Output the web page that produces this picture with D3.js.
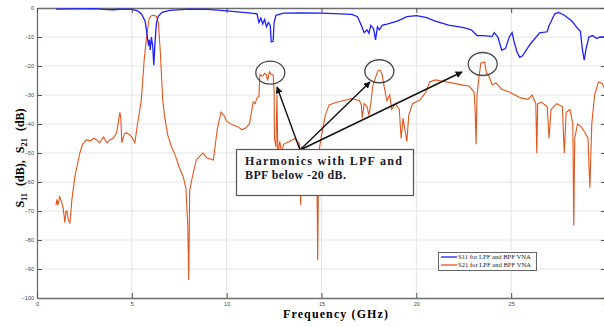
<!DOCTYPE html>
<html>
<head>
<meta charset="utf-8">
<script src="https://cdn.jsdelivr.net/npm/d3@7"></script>
<style>
  body { margin: 0; background: #fff; }
  svg { display: block; }
  .tick text { font-family: "Liberation Sans", Arial, sans-serif; font-size: 5.5px; fill: #444; }
</style>
</head>
<body>
<svg id="chart" width="604" height="327"></svg>
<script>
// S11 trace (GHz, dB)
const s11Freq = [1.0, 2.0, 3.0, 3.5, 4.0, 4.5, 5.0, 5.3, 5.5, 5.7, 5.8, 5.88, 5.92, 5.97, 6.03, 6.1, 6.16, 6.22, 6.3, 6.4,
    6.6, 7.0, 8.0, 9.0, 10.0, 11.0, 11.6, 11.7, 11.8, 11.9, 12.0, 12.1, 12.2, 12.3, 12.35, 12.45, 12.5, 12.6, 13.0, 14.0,
    15.0, 16.0, 16.6, 16.9, 17.1, 17.25, 17.4, 17.5, 17.6, 17.75, 17.85, 17.95, 18.05, 18.2, 18.5, 19.0, 19.5, 20.0, 20.5, 21.0,
    21.7, 22.5, 22.9, 23.2, 23.5, 24.0, 24.1, 24.3, 24.5, 24.7, 24.9, 25.05, 25.15, 25.3, 25.45, 25.6, 26.0, 26.5, 26.9, 27.0,
    27.3, 27.5, 27.8, 28.2, 28.5, 28.65, 28.75, 28.85, 28.95, 29.1, 29.3, 29.5, 29.7, 30.0];
const s11Db = [-0.4, -0.3, -0.2, -0.5, -0.6, -0.4, -0.5, -1.0, -2.0, -4.5, -9, -13, -11, -14.5, -10, -13, -19.7, -12, -5, -2.8,
    -1.5, -0.8, -0.4, -0.5, -1.0, -1.6, -2.0, -5, -3.5, -5.5, -4, -6.5, -5, -6, -11.7, -11.5, -5, -2.5, -1.8, -1.7,
    -1.8, -2.0, -2.2, -3, -6, -8.5, -7.5, -8.7, -6, -7.2, -11, -6.5, -7.5, -6, -5.5, -4.5, -3, -2.6, -3.2, -4.5,
    -5.9, -6.8, -7.5, -9.5, -9.5, -9.8, -8.5, -10, -14.5, -14, -10, -8.5, -11.5, -15, -17, -16.5, -12.5, -8.6, -8.2, -6,
    -2, -1.5, -2.5, -4.5, -7, -8, -14, -18, -14, -10, -9.5, -10.5, -10, -10];

// S21 trace (GHz, dB)
const s21Freq = [1.0, 1.05, 1.1, 1.2, 1.3, 1.38, 1.47, 1.53, 1.58, 1.65, 1.74, 1.84, 2.0, 2.1, 2.26, 2.4, 2.6, 2.8, 3.0, 3.15,
    3.3, 3.5, 3.7, 3.84, 4.0, 4.2, 4.37, 4.42, 4.47, 4.6, 4.7, 4.85, 5.0, 5.16, 5.3, 5.5, 5.65, 5.8, 5.9, 6.0,
    6.1, 6.2, 6.3, 6.4, 6.5, 6.63, 6.74, 6.9, 7.1, 7.3, 7.5, 7.7, 7.85, 7.95, 8.0, 8.05, 8.2, 8.4, 8.6, 8.75,
    8.95, 9.1, 9.3, 9.5, 9.7, 9.85, 10.0, 10.3, 10.6, 10.8, 11.0, 11.2, 11.3, 11.4, 11.5, 11.6, 11.7, 11.75, 11.9, 12.0,
    12.1, 12.15, 12.26, 12.35, 12.45, 12.5, 12.52, 12.6, 12.65, 12.7, 12.8, 12.9, 13.0, 13.3, 13.6, 13.85, 13.9, 13.95, 14.2, 14.5,
    14.75, 14.8, 14.85, 15.0, 15.2, 15.4, 15.8, 16.3, 16.6, 17.0, 17.1, 17.15, 17.25, 17.4, 17.5, 17.6, 17.7, 17.9, 18.0, 18.1,
    18.2, 18.3, 18.45, 18.6, 18.7, 18.9, 19.1, 19.2, 19.3, 19.5, 19.6, 19.8, 20.2, 20.5, 20.7, 21.0, 21.6, 22.0, 22.4, 22.8,
    23.05, 23.1, 23.15, 23.2, 23.3, 23.4, 23.6, 23.7, 23.8, 24.0, 24.2, 24.5, 24.9, 25.2, 25.5, 25.9, 26.1, 26.3, 26.35, 26.4,
    26.6, 26.9, 27.0, 27.1, 27.4, 27.7, 27.8, 27.9, 28.1, 28.25, 28.3, 28.35, 28.5, 28.7, 28.9, 29.05, 29.15, 29.25, 29.4, 29.6,
    29.8, 30.0];
const s21Db = [-68, -66, -68, -65, -67, -69, -74, -70, -70, -73, -74, -66, -58, -55, -50, -47, -45.5, -45.8, -45, -45.5,
    -46.5, -44.5, -46.5, -45.5, -45, -43, -36, -38, -46.5, -43.5, -43, -43.5, -44.5, -46.5, -40, -31.7, -18, -8.6, -4, -2.8,
    -2.5, -2.6, -3, -5, -15, -31.7, -38, -44, -48, -51, -55, -58, -62, -75, -93.8, -63, -58, -52.4, -51, -50,
    -51.7, -52, -52.4, -42, -35.9, -37, -39, -40.3, -41, -42, -41.4, -40, -36.2, -32.4, -33, -31, -30.5, -23, -23.5, -22.5,
    -23, -25, -22, -23, -23, -28, -45, -48, -30, -50, -46, -50, -47, -46, -45, -47, -68, -48, -49, -50,
    -50, -87, -50, -44, -37, -33.4, -32.5, -31.7, -31.2, -32, -33.4, -38, -33, -34, -37, -33, -27, -23, -21.4, -21.6,
    -23, -27, -32, -30, -35, -33, -35, -45, -38, -46, -37, -33, -31.7, -29, -25.5, -24.8, -25.5, -26, -26.5, -27,
    -29, -35, -47, -30, -24, -19, -18.6, -22.4, -23, -26.5, -25.8, -28, -29, -30, -31, -31.5, -30, -33, -50, -33,
    -32.5, -34, -45, -35, -33, -34, -50, -36, -35, -40, -75, -45, -40, -41, -43, -45, -62, -40, -30, -25.5,
    -26, -29];

const xTicks = [0, 5, 10, 15, 20, 25, 30];
const yTicks = [0, -10, -20, -30, -40, -50, -60, -70, -80, -90, -100];
const seriesNames = ["S11 for LPF and BPF VNA", "S21 for LPF and BPF VNA"];
const seriesColors = ["#1f1fff", "#e0561e"];
// harmonic peaks that are circled (GHz, dB)
const harmonicFreq = [12.3, 18.05, 23.5];
const harmonicDb = [-23, -22.5, -20];

const svg = d3.select("#chart");
const x = d3.scaleLinear().domain([0, 30]).range([37, 606]);
const y = d3.scaleLinear().domain([-100, 0]).range([298, 8]);

// grid
svg.append("g").selectAll("line")
    .data(xTicks.slice(1, -1))
    .enter().append("line")
    .attr("x1", d => x(d)).attr("x2", d => x(d))
    .attr("y1", y(0)).attr("y2", y(-100))
    .attr("stroke", "#e3e3e3").attr("stroke-width", 1);
svg.append("g").selectAll("line")
    .data(yTicks.slice(1, -1))
    .enter().append("line")
    .attr("x1", x(0)).attr("x2", x(30))
    .attr("y1", d => y(d)).attr("y2", d => y(d))
    .attr("stroke", "#e3e3e3").attr("stroke-width", 1);

// axes, ticks pointing inward like matlab
const axLeft = svg.append("g")
    .attr("transform", `translate(${x(0)},0)`)
    .call(d3.axisLeft(y).tickValues(yTicks).tickSize(-5).tickSizeOuter(0).tickPadding(3));
const axBottom = svg.append("g")
    .attr("transform", `translate(0,${y(-100)})`)
    .call(d3.axisBottom(x).tickValues(xTicks).tickSize(-5).tickSizeOuter(0).tickPadding(4));
const axTop = svg.append("g")
    .attr("transform", `translate(0,${y(0)})`)
    .call(d3.axisTop(x).tickValues(xTicks).tickSize(-5).tickSizeOuter(0).tickFormat(""));
const axRight = svg.append("g")
    .attr("transform", `translate(${x(30)},0)`)
    .call(d3.axisRight(y).tickValues(yTicks).tickSize(-5).tickSizeOuter(0).tickFormat(""));
[axLeft, axBottom, axTop, axRight].forEach(g => {
    g.select(".domain").attr("stroke", "#6e6e6e").attr("stroke-width", 1.3);
    g.selectAll(".tick line").attr("stroke", "#555").attr("stroke-width", 1);
});

// traces
const line = d3.line().x(d => x(d[0])).y(d => y(d[1]));
svg.append("path")
    .datum(d3.zip(s21Freq, s21Db))
    .attr("d", line)
    .attr("fill", "none")
    .attr("stroke", seriesColors[1])
    .attr("stroke-width", 1.1);
svg.append("path")
    .datum(d3.zip(s11Freq, s11Db))
    .attr("d", line)
    .attr("fill", "none")
    .attr("stroke", seriesColors[0])
    .attr("stroke-width", 1.3);

// circles round harmonics
svg.append("g").selectAll("ellipse")
    .data(d3.zip(harmonicFreq, harmonicDb))
    .enter().append("ellipse")
    .attr("cx", d => x(d[0]))
    .attr("cy", d => y(d[1]) - 2)
    .attr("rx", 14.5)
    .attr("ry", 11.5)
    .attr("fill", "none")
    .attr("stroke", "#4a4a4a")
    .attr("stroke-width", 1.3);

// arrows
svg.append("defs").append("marker")
    .attr("id", "head")
    .attr("viewBox", "0 0 10 10")
    .attr("refX", 9).attr("refY", 5)
    .attr("markerWidth", 7).attr("markerHeight", 7)
    .attr("markerUnits", "userSpaceOnUse")
    .attr("orient", "auto")
    .append("path").attr("d", "M0,0 L10,5 L0,10 z").attr("fill", "#111");

const arrowEnds = [[277, 87], [370, 82], [462, 72]];
svg.append("g").selectAll("line")
    .data(arrowEnds)
    .enter().append("line")
    .attr("x1", 300).attr("y1", 150)
    .attr("x2", d => d[0]).attr("y2", d => d[1])
    .attr("stroke", "#111")
    .attr("stroke-width", 1.4)
    .attr("marker-end", "url(#head)");

// annotation box
svg.append("rect")
    .attr("x", 236.5).attr("y", 149.5)
    .attr("width", 177).attr("height", 46)
    .attr("fill", "#fff")
    .attr("stroke", "#555")
    .attr("stroke-width", 1.2);
const serif = "'Liberation Serif', 'Times New Roman', serif";
const note = svg.append("g")
    .attr("font-family", serif)
    .attr("font-weight", "bold")
    .attr("font-size", 12)
    .attr("fill", "#1a1a2a");
note.append("text")
    .attr("x", 245).attr("y", 165)
    .attr("textLength", 157)
    .attr("lengthAdjust", "spacing")
    .text("Harmonics with LPF and");
note.append("text")
    .attr("x", 245).attr("y", 179)
    .attr("textLength", 101)
    .attr("lengthAdjust", "spacing")
    .text("BPF below -20 dB.");

// axis titles
svg.append("text")
    .attr("x", 283).attr("y", 318)
    .attr("textLength", 105)
    .attr("lengthAdjust", "spacing")
    .attr("font-family", serif)
    .attr("font-weight", "bold")
    .attr("font-size", 12)
    .text("Frequency (GHz)");

const ylab = svg.append("text")
    .attr("transform", "translate(24,158) rotate(-90)")
    .attr("text-anchor", "middle")
    .attr("font-family", serif)
    .attr("font-weight", "bold")
    .attr("font-size", 12)
    .attr("word-spacing", 4);
ylab.append("tspan").text("S");
ylab.append("tspan").attr("dy", 3).attr("font-size", 8.5).text("11");
ylab.append("tspan").attr("dy", -3).text(" (dB), S");
ylab.append("tspan").attr("dy", 3).attr("font-size", 8.5).text("21");
ylab.append("tspan").attr("dy", -3).text(" (dB)");

// legend
const legend = svg.append("g").attr("transform", "translate(438,252)");
legend.append("rect")
    .attr("x", 0.5).attr("y", 0.5)
    .attr("width", 98).attr("height", 18)
    .attr("fill", "#fff")
    .attr("stroke", "#666")
    .attr("stroke-width", 1);
const items = legend.selectAll("g.item")
    .data(seriesNames)
    .enter().append("g")
    .attr("class", "item")
    .attr("transform", (d, i) => `translate(0,${5 + i * 8})`);
items.append("line")
    .attr("x1", 3).attr("x2", 19)
    .attr("stroke", (d, i) => seriesColors[i])
    .attr("stroke-width", 1.3);
items.append("text")
    .attr("x", 20).attr("y", 2.3)
    .attr("font-family", serif)
    .attr("font-size", 6.6)
    .attr("fill", "#222")
    .text(d => d);
</script>
</body>
</html>
